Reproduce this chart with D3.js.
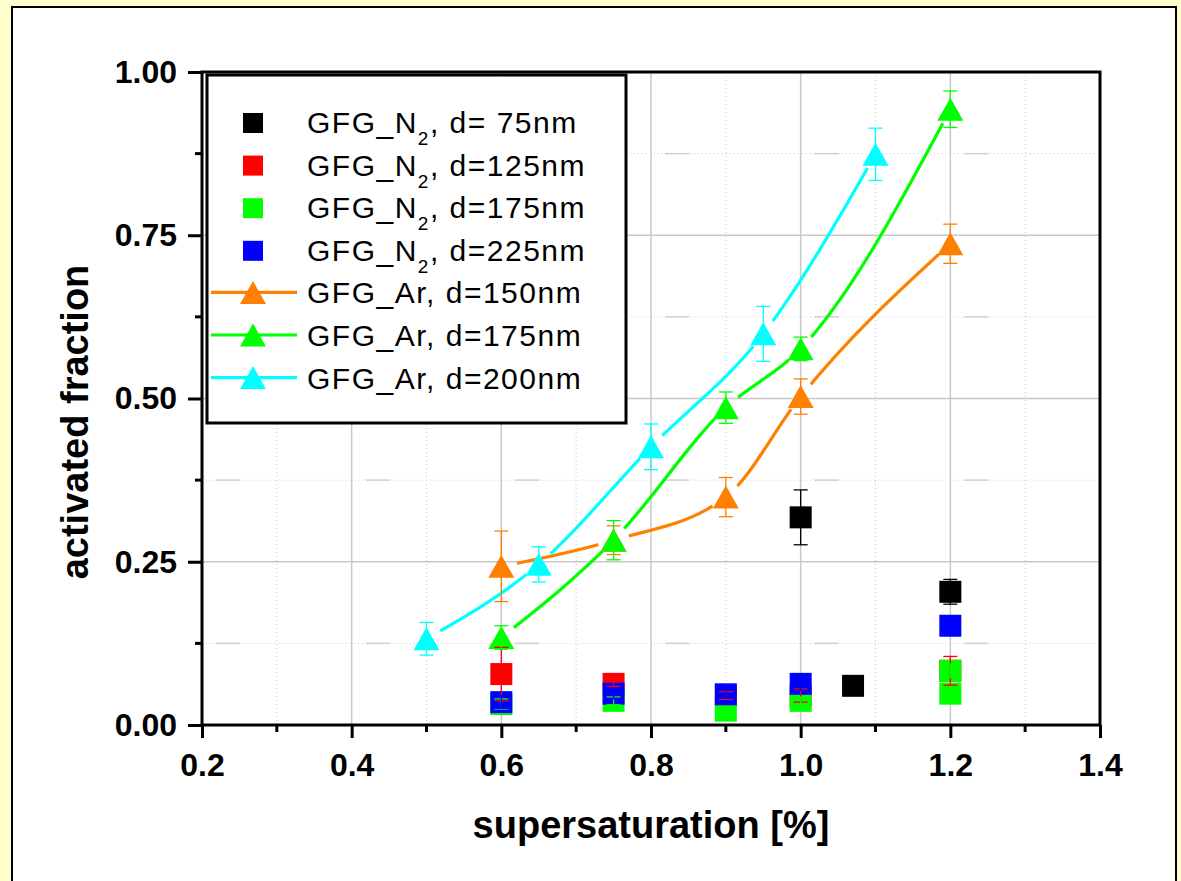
<!DOCTYPE html>
<html>
<head>
<meta charset="utf-8">
<script src="https://cdn.jsdelivr.net/npm/d3@7"></script>
<style>
  html, body { margin: 0; padding: 0; background: #ffffcc; }
  svg { display: block; }
  text { font-family: Arial, "Liberation Sans", sans-serif; fill: #000; }
</style>
</head>
<body>
<svg id="chart" width="1181" height="881"></svg>
<script>
// ---- axis ticks ----
const xMajorTicks = [0.2, 0.4, 0.6, 0.8, 1.0, 1.2, 1.4];
const xMinorTicks = [0.3, 0.5, 0.7, 0.9, 1.1, 1.3];
const yMajorTicks = [0.00, 0.25, 0.50, 0.75, 1.00];
const yMinorTicks = [0.125, 0.375, 0.625, 0.875];

// ---- GFG_N2 series (squares) ----
const n2d75X   = [1.0, 1.07, 1.2];
const n2d75Y   = [0.318, 0.060, 0.204];
const n2d75Err = [0.042, 0.004, 0.019];

const n2d125X   = [0.6, 0.75, 0.9, 1.0, 1.2];
const n2d125Y   = [0.078, 0.063, 0.045, 0.045, 0.083];
const n2d125Err = [0.041, 0.004, 0.006, 0.010, 0.022];

const n2d175X   = [0.6, 0.75, 0.9, 1.0, 1.2, 1.2];
const n2d175Y   = [0.032, 0.037, 0.022, 0.037, 0.083, 0.048];
const n2d175Err = [0.008, 0.006, 0.005, 0.006, 0.010, 0.010];

const n2d225X   = [0.6, 0.75, 0.9, 1.0, 1.2];
const n2d225Y   = [0.035, 0.048, 0.047, 0.063, 0.152];
const n2d225Err = [0.010, 0.008, 0.006, 0.010, 0.005];

// ---- GFG_Ar series (triangles + spline) ----
const ar150X   = [0.6, 0.75, 0.9, 1.0, 1.2];
const ar150Y   = [0.243, 0.283, 0.349, 0.503, 0.737];
const ar150Err = [0.054, 0.022, 0.030, 0.027, 0.030];

const ar175X   = [0.6, 0.75, 0.9, 1.0, 1.2];
const ar175Y   = [0.134, 0.283, 0.486, 0.576, 0.943];
const ar175Err = [0.018, 0.030, 0.024, 0.018, 0.028];

const ar200X   = [0.5, 0.65, 0.8, 0.95, 1.1];
const ar200Y   = [0.132, 0.246, 0.426, 0.599, 0.874];
const ar200Err = [0.025, 0.027, 0.035, 0.042, 0.040];

const squareSeries = [
  { name: "d= 75nm", color: "#000000", x: n2d75X,  y: n2d75Y,  err: n2d75Err },
  { name: "d=125nm", color: "#ff0000", x: n2d125X, y: n2d125Y, err: n2d125Err },
  { name: "d=175nm", color: "#00ff00", x: n2d175X, y: n2d175Y, err: n2d175Err },
  { name: "d=225nm", color: "#0000ff", x: n2d225X, y: n2d225Y, err: n2d225Err }
];
const triSeries = [
  { name: "d=150nm", color: "#ff8000", x: ar150X, y: ar150Y, err: ar150Err },
  { name: "d=175nm", color: "#00ff00", x: ar175X, y: ar175Y, err: ar175Err },
  { name: "d=200nm", color: "#00ffff", x: ar200X, y: ar200Y, err: ar200Err }
];

const svg = d3.select("#chart");

// white page panel
svg.append("rect")
  .attr("x", 12).attr("y", 7).attr("width", 1164).attr("height", 890)
  .attr("fill", "#fff").attr("stroke", "#000").attr("stroke-width", 2);

const plotL = 202, plotR = 1100, plotT = 72, plotB = 725;
const x = d3.scaleLinear().domain([0.2, 1.4]).range([plotL, plotR]);
const y = d3.scaleLinear().domain([0, 1]).range([plotB, plotT]);

// ---- grid ----
const grid = svg.append("g");
const gridColor = "#c8c8c8";
xMajorTicks.filter(v => v > 0.2 && v < 1.4).forEach(v => {
  grid.append("line").attr("x1", x(v)).attr("x2", x(v)).attr("y1", plotT).attr("y2", plotB)
    .attr("stroke", gridColor).attr("stroke-width", 1.5);
});
xMinorTicks.forEach(v => {
  grid.append("line").attr("x1", x(v)).attr("x2", x(v)).attr("y1", plotT).attr("y2", plotB)
    .attr("stroke", gridColor).attr("stroke-width", 1).attr("stroke-dasharray", "1,3");
});
yMajorTicks.filter(v => v > 0 && v < 1).forEach(v => {
  grid.append("line").attr("x1", plotL).attr("x2", plotR).attr("y1", y(v)).attr("y2", y(v))
    .attr("stroke", gridColor).attr("stroke-width", 1.5);
});
yMinorTicks.forEach(v => {
  grid.append("line").attr("x1", plotL).attr("x2", plotR).attr("y1", y(v)).attr("y2", y(v))
    .attr("stroke", gridColor).attr("stroke-width", 1).attr("stroke-dasharray", "1,3");
  // short solid dashes that follow each major vertical line
  xMajorTicks.filter(t => t < 1.4).forEach(t => {
    grid.append("line").attr("x1", x(t) + 14).attr("x2", x(t) + 38)
      .attr("y1", y(v)).attr("y2", y(v))
      .attr("stroke", "#d0d0d0").attr("stroke-width", 1.5);
  });
});

// ---- marker shapes ----
const triW = 26, triH = 23, sq = 22;
function triPath(cx, cy) {
  return `M${cx},${cy - triH / 2}L${cx + triW / 2},${cy + triH / 2}L${cx - triW / 2},${cy + triH / 2}Z`;
}

// ---- spline lines for Ar series, with small gaps around markers ----
const defs = svg.append("defs");
const line = d3.line().curve(d3.curveMonotoneX);
triSeries.forEach((s, i) => {
  const pts = s.x.map((xv, j) => [x(xv), y(s.y[j])]);
  const mask = defs.append("mask").attr("id", "gap" + i)
    .attr("maskUnits", "userSpaceOnUse")
    .attr("x", 0).attr("y", 0).attr("width", 1181).attr("height", 881);
  mask.append("rect").attr("width", 1181).attr("height", 881).attr("fill", "#fff");
  pts.forEach(p => mask.append("circle").attr("cx", p[0]).attr("cy", p[1]).attr("r", 16).attr("fill", "#000"));
  svg.append("path").attr("d", line(pts)).attr("fill", "none")
    .attr("stroke", s.color).attr("stroke-width", 3.2)
    .attr("mask", `url(#gap${i})`);
});

// ---- markers ----
squareSeries.forEach(s => {
  s.x.forEach((xv, j) => {
    svg.append("rect").attr("x", x(xv) - sq / 2).attr("y", y(s.y[j]) - sq / 2)
      .attr("width", sq).attr("height", sq).attr("fill", s.color);
  });
});
triSeries.forEach(s => {
  s.x.forEach((xv, j) => {
    svg.append("path").attr("d", triPath(x(xv), y(s.y[j]))).attr("fill", s.color);
  });
});

// ---- error bars ----
function errorBars(s) {
  const g = svg.append("g").attr("stroke", s.color).attr("stroke-width", 1.3);
  s.x.forEach((xv, j) => {
    const cx = x(xv), y1 = y(s.y[j] + s.err[j]), y2 = y(s.y[j] - s.err[j]);
    g.append("line").attr("x1", cx).attr("x2", cx).attr("y1", y1).attr("y2", y2);
    g.append("line").attr("x1", cx - 7).attr("x2", cx + 7).attr("y1", y1).attr("y2", y1);
    g.append("line").attr("x1", cx - 7).attr("x2", cx + 7).attr("y1", y2).attr("y2", y2);
  });
}
squareSeries.forEach(errorBars);
triSeries.forEach(errorBars);

// ---- axes ----
const xAxis = d3.axisBottom(x).tickValues(xMajorTicks).tickFormat(d3.format(".1f"))
  .tickSize(13).tickSizeOuter(0).tickPadding(15);
const yAxis = d3.axisLeft(y).tickValues(yMajorTicks).tickFormat(d3.format(".2f"))
  .tickSize(14).tickSizeOuter(0).tickPadding(11);

const gx = svg.append("g").attr("transform", `translate(0,${plotB})`).call(xAxis);
const gy = svg.append("g").attr("transform", `translate(${plotL},0)`).call(yAxis);
[gx, gy].forEach(g => {
  g.select(".domain").remove();
  g.selectAll(".tick line").attr("stroke", "#000").attr("stroke-width", 3);
  g.selectAll(".tick text").attr("font-size", 32).attr("font-weight", "bold")
    .style("font-family", 'Arial, "Liberation Sans", sans-serif');
});
// minor ticks
xMinorTicks.forEach(v => {
  svg.append("line").attr("x1", x(v)).attr("x2", x(v)).attr("y1", plotB).attr("y2", plotB + 7)
    .attr("stroke", "#000").attr("stroke-width", 3);
});
yMinorTicks.forEach(v => {
  svg.append("line").attr("x1", plotL - 7).attr("x2", plotL).attr("y1", y(v)).attr("y2", y(v))
    .attr("stroke", "#000").attr("stroke-width", 3);
});
// frame
svg.append("rect").attr("x", plotL).attr("y", plotT).attr("width", plotR - plotL).attr("height", plotB - plotT)
  .attr("fill", "none").attr("stroke", "#000").attr("stroke-width", 3);

// axis titles
svg.append("text").attr("x", (plotL + plotR) / 2).attr("y", 838)
  .attr("text-anchor", "middle").attr("font-size", 38).attr("font-weight", "bold")
  .text("supersaturation [%]");
svg.append("text").attr("transform", "translate(88,422) rotate(-90)")
  .attr("text-anchor", "middle").attr("font-size", 38).attr("font-weight", "bold")
  .text("activated fraction");

// ---- legend ----
const lg = svg.append("g");
lg.append("rect").attr("x", 207).attr("y", 75).attr("width", 419).attr("height", 348)
  .attr("fill", "#fff").attr("stroke", "#000").attr("stroke-width", 3);
const rowBase = i => 133 + i * 42.6;
const symX = 253, textX = 307;
squareSeries.forEach((s, i) => {
  const b = rowBase(i);
  lg.append("rect").attr("x", symX - 10).attr("y", b - 20).attr("width", 20).attr("height", 20)
    .attr("fill", s.color);
  const t = lg.append("text").attr("x", textX).attr("y", b).attr("font-size", 30)
    .attr("letter-spacing", 1.5);
  t.append("tspan").text("GFG_N");
  t.append("tspan").attr("font-size", 19).attr("dy", 12).text("2");
  t.append("tspan").attr("dy", -12).text(", " + s.name);
});
triSeries.forEach((s, k) => {
  const i = k + 4;
  const b = rowBase(i);
  const cy = b - 11;
  lg.append("line").attr("x1", 211).attr("x2", 297).attr("y1", cy).attr("y2", cy)
    .attr("stroke", s.color).attr("stroke-width", 3.2);
  lg.append("path").attr("d", triPath(symX, cy)).attr("fill", s.color);
  lg.append("text").attr("x", textX).attr("y", b).attr("font-size", 30)
    .attr("letter-spacing", 1.5).text("GFG_Ar, " + s.name);
});
</script>
</body>
</html>
